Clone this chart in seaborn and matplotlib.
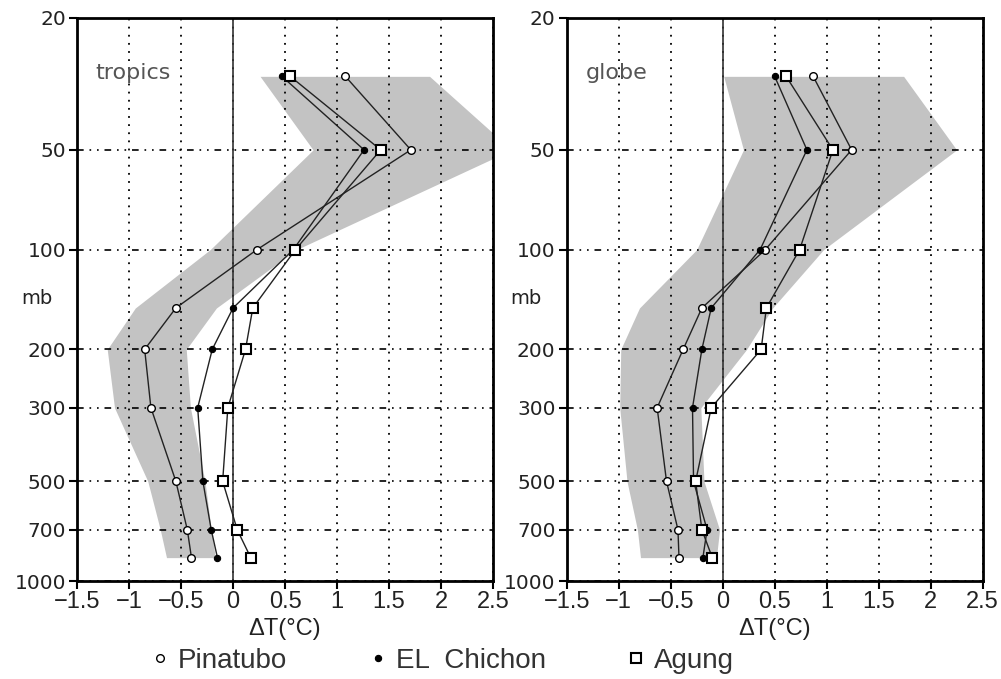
import matplotlib
matplotlib.use("Agg")
import matplotlib.pyplot as plt
import matplotlib.transforms as mtransforms
from matplotlib.lines import Line2D
import seaborn as sns
import numpy as np

# ---------------- data ----------------
levels = [30, 50, 100, 150, 200, 300, 500, 700, 850]

# tropics
pin_trop = [1.08, 1.71, 0.23, -0.55, -0.85, -0.79, -0.55, -0.44, -0.40]
chi_trop = [0.47, 1.26, 0.58, 0.00, -0.20, -0.34, -0.29, -0.21, -0.15]
agu_trop = [0.55, 1.42, 0.60, 0.19, 0.12, -0.05, -0.10, 0.04, 0.17]
band_lo_trop = [0.26, 0.77, -0.22, -0.94, -1.21, -1.14, -0.82, -0.70, -0.64]
band_hi_trop = [1.89, 2.68, 0.61, -0.16, -0.45, -0.41, -0.27, -0.21, -0.17]

# globe
pin_glob = [0.87, 1.24, 0.41, -0.20, -0.38, -0.63, -0.54, -0.43, -0.42]
chi_glob = [0.50, 0.81, 0.36, -0.11, -0.20, -0.29, -0.28, -0.15, -0.19]
agu_glob = [0.61, 1.06, 0.74, 0.42, 0.37, -0.11, -0.26, -0.20, -0.10]
band_lo_glob = [0.01, 0.20, -0.25, -0.80, -0.98, -0.99, -0.92, -0.82, -0.79]
band_hi_glob = [1.74, 2.25, 0.97, 0.48, 0.23, -0.21, -0.18, -0.03, -0.06]

x_ticks = [-1.5, -1, -0.5, 0, 0.5, 1, 1.5, 2, 2.5]
x_tick_labels = ["\u22121.5", "\u22121", "\u22120.5", "0", "0.5", "1", "1.5", "2", "2.5"]
y_ticks = [20, 50, 100, 200, 300, 500, 700, 1000]
y_tick_labels = ["20", "50", "100", "200", "300", "500", "700", "1000"]
series_names = ["Pinatubo", "EL  Chichon", "Agung"]
panel_names = ["tropics", "globe"]

# ---------------- style ----------------
sns.set_style("ticks")
plt.rcParams["font.family"] = ["DejaVu Sans"]
narrow = ["Liberation Sans", "DejaVu Sans"]

fig = plt.figure(figsize=(10.01, 6.79), dpi=100)
ax1 = fig.add_axes([0.077, 0.1443, 0.4155, 0.8292])
ax2 = fig.add_axes([0.5661, 0.1443, 0.4156, 0.8292])

panels = [
    (ax1, pin_trop, chi_trop, agu_trop, band_lo_trop, band_hi_trop, panel_names[0]),
    (ax2, pin_glob, chi_glob, agu_glob, band_lo_glob, band_hi_glob, panel_names[1]),
]

marker_styles = [
    dict(marker="o", markersize=5.5, markerfacecolor="white", markeredgecolor="black", markeredgewidth=1.0),
    dict(marker="o", markersize=4.5, markerfacecolor="black", markeredgecolor="black", markeredgewidth=0.8),
    dict(marker="s", markersize=7, markerfacecolor="white", markeredgecolor="black", markeredgewidth=1.5),
]

for ax, pin, chi, agu, lo, hi, name in panels:
    ax.fill_betweenx(levels, lo, hi, color="#c3c3c3", linewidth=0, zorder=1)
    for vals, ms in zip([pin, chi, agu], marker_styles):
        sns.lineplot(x=vals, y=levels, sort=False, estimator=None, ax=ax,
                     color="#222222", linewidth=1.0, zorder=3, **ms)
    ax.set_yscale("log")
    ax.set_ylim(1000, 20)
    ax.set_xlim(-1.5, 2.5)
    ax.set_xticks(x_ticks)
    ax.set_xticklabels(x_tick_labels, fontfamily=narrow, fontsize=17, color="#222222")
    ax.set_yticks(y_ticks)
    ax.set_yticklabels(y_tick_labels, fontsize=14.5, color="#222222")
    ax.yaxis.set_minor_locator(matplotlib.ticker.NullLocator())
    ax.tick_params(axis="both", direction="out", length=6, width=1.5, color="black", pad=2)
    ax.tick_params(axis="x", pad=1)
    for sp in ax.spines.values():
        sp.set_linewidth(2.0)
        sp.set_color("black")
        sp.set_visible(True)
    ax.set_axisbelow("line")
    ax.xaxis.grid(True, linestyle=(0, (1.0, 3.5)), color="black", linewidth=1.3)
    ax.yaxis.grid(True, linestyle=(0, (4, 3.5, 1, 3.5, 1, 3.5)), color="black", linewidth=1.2)
    ax.axvline(0, color="#333333", linewidth=1.2, zorder=1.6)
    ax.set_xlabel("\u0394T(\u00b0C)", fontfamily=narrow, fontsize=17, labelpad=4, color="#222222")
    ax.set_ylabel("")
    ax.text(0.045, 0.902, name, transform=ax.transAxes, fontsize=16,
            color="#555555", ha="left", va="center")
    trans = mtransforms.blended_transform_factory(ax.transAxes, ax.transData)
    ax.text(-0.135, 150, "mb", transform=trans, fontsize=14, color="#222222",
            ha="left", va="bottom")
    if ax.get_legend() is not None:
        ax.get_legend().remove()

handles = [Line2D([], [], linestyle="none", **ms) for ms in marker_styles]
fig.legend(handles, series_names, loc="center", bbox_to_anchor=(0.443, 0.027),
           ncol=3, frameon=False, prop={"family": narrow, "size": 20},
           handlelength=0.5, handletextpad=0.4, columnspacing=3.0,
           labelcolor="#333333")

fig.savefig("out.png", dpi=100)
